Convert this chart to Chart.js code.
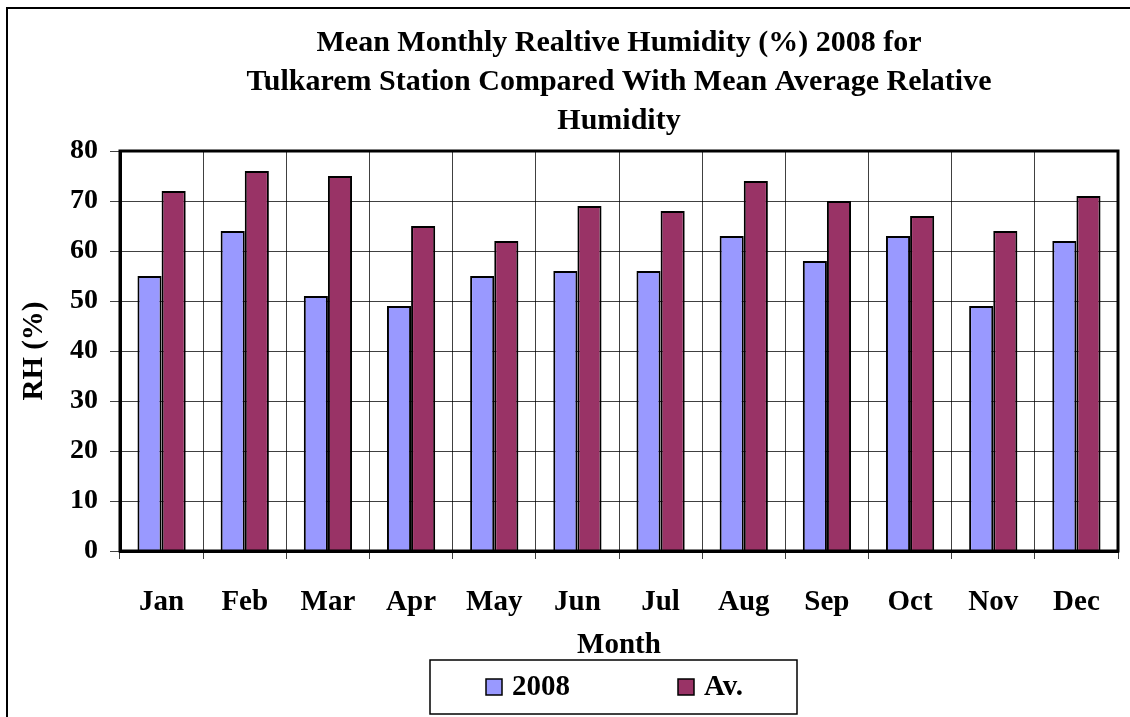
<!DOCTYPE html>
<html>
<head>
<meta charset="utf-8">
<title>Mean Monthly Relative Humidity 2008 - Tulkarem</title>
<script src="https://cdn.jsdelivr.net/npm/chart.js@4.4.1/dist/chart.umd.min.js"></script>
<style>
  html, body { margin: 0; padding: 0; background: #fff; }
  #wrap { width: 1130px; height: 717px; }
</style>
</head>
<body>
<div id="wrap"><canvas id="rhChart" width="1130" height="717"></canvas></div>
<script>
/* data */
const months = ['Jan','Feb','Mar','Apr','May','Jun','Jul','Aug','Sep','Oct','Nov','Dec'];
const rh2008 = [55, 64, 51, 49, 55, 56, 56, 63, 58, 63, 49, 62];
const rhAverage = [72, 76, 75, 65, 62, 69, 68, 74, 70, 67, 64, 71];
const seriesNames = ['2008', 'Av.'];
const yMin = 0, yMax = 80, yStep = 10;

const titleLines = [
  'Mean Monthly Realtive Humidity (%) 2008 for',
  'Tulkarem Station Compared With Mean Average Relative',
  'Humidity'
];

const FONT = '"Liberation Serif", "Times New Roman", serif';
const COLOR_2008 = '#9999FF';
const COLOR_AV = '#993366';

/* outer frame + plot border + legend box */
const framePlugin = {
  id: 'frame',
  beforeDraw(chart){
    const ctx = chart.ctx;
    ctx.save();
    ctx.fillStyle = '#fff';
    ctx.fillRect(0, 0, chart.width, chart.height);
    ctx.strokeStyle = '#000';
    ctx.lineWidth = 2;
    ctx.beginPath();
    ctx.moveTo(7, chart.height);
    ctx.lineTo(7, 8);
    ctx.lineTo(chart.width, 8);
    ctx.stroke();
    ctx.restore();
  },
  afterDraw(chart){
    const ctx = chart.ctx;
    const a = chart.chartArea;
    ctx.save();
    ctx.strokeStyle = '#000';
    ctx.lineWidth = 3;
    ctx.strokeRect(a.left, a.top, a.right - a.left, a.bottom - a.top);

    // legend box under the axis title
    const boxL = 430, boxT = 660, boxW = 367, boxH = 54;
    ctx.lineWidth = 1.5;
    ctx.strokeRect(boxL, boxT, boxW, boxH);
    ctx.font = 'bold 29px ' + FONT;
    ctx.textBaseline = 'middle';
    ctx.textAlign = 'left';
    chart.data.datasets.forEach((ds, i) => {
      const x = boxL + 56 + i * 192;
      const cy = boxT + boxH / 2;
      ctx.fillStyle = ds.backgroundColor;
      ctx.fillRect(x, cy - 8, 16, 16);
      ctx.lineWidth = 1.5;
      ctx.strokeRect(x, cy - 8, 16, 16);
      ctx.fillStyle = '#000';
      ctx.fillText(ds.label, x + 26, cy + 1);
    });
    ctx.restore();
  }
};

const ctx = document.getElementById('rhChart').getContext('2d');
new Chart(ctx, {
  type: 'bar',
  data: {
    labels: months,
    datasets: [
      { label: seriesNames[0], data: rh2008, backgroundColor: COLOR_2008, borderColor: '#000', borderWidth: 2 },
      { label: seriesNames[1], data: rhAverage, backgroundColor: COLOR_AV, borderColor: '#000', borderWidth: 2 }
    ]
  },
  options: {
    responsive: false,
    animation: false,
    layout: { padding: { left: 8, right: 12, top: 13, bottom: 54 } },
    datasets: { bar: { categoryPercentage: 0.58, barPercentage: 1.0 } },
    plugins: {
      legend: { display: false },
      tooltip: { enabled: false },
      title: {
        display: true,
        fullSize: false,
        text: titleLines,
        color: '#000',
        font: { family: FONT, size: 30, weight: 'bold', lineHeight: 1.3 },
        padding: { top: 11, bottom: 10 }
      }
    },
    scales: {
      x: {
        grid: { color: 'rgba(0,0,0,0.75)', lineWidth: 1, tickLength: 8, offset: true },
        border: { color: '#000', width: 3 },
        ticks: { color: '#000', padding: 26, font: { family: FONT, size: 29, weight: 'bold' } },
        title: {
          display: true, text: 'Month', color: '#000',
          font: { family: FONT, size: 29, weight: 'bold' },
          padding: { top: 0, bottom: 0 }
        },
        afterFit(scale){ scale.height = 112; }
      },
      y: {
        min: yMin, max: yMax,
        grid: { color: 'rgba(0,0,0,0.75)', lineWidth: 1, tickLength: 10 },
        border: { color: '#000', width: 3 },
        ticks: { stepSize: yStep, color: '#000', padding: 12, font: { family: FONT, size: 28, weight: 'bold' } },
        title: {
          display: true, text: 'RH (%)', color: '#000',
          font: { family: FONT, size: 29, weight: 'bold' },
          padding: { top: 9, bottom: 0 }
        },
        afterFit(scale){ scale.width = 112; }
      }
    }
  },
  plugins: [framePlugin]
});
</script>
</body>
</html>
